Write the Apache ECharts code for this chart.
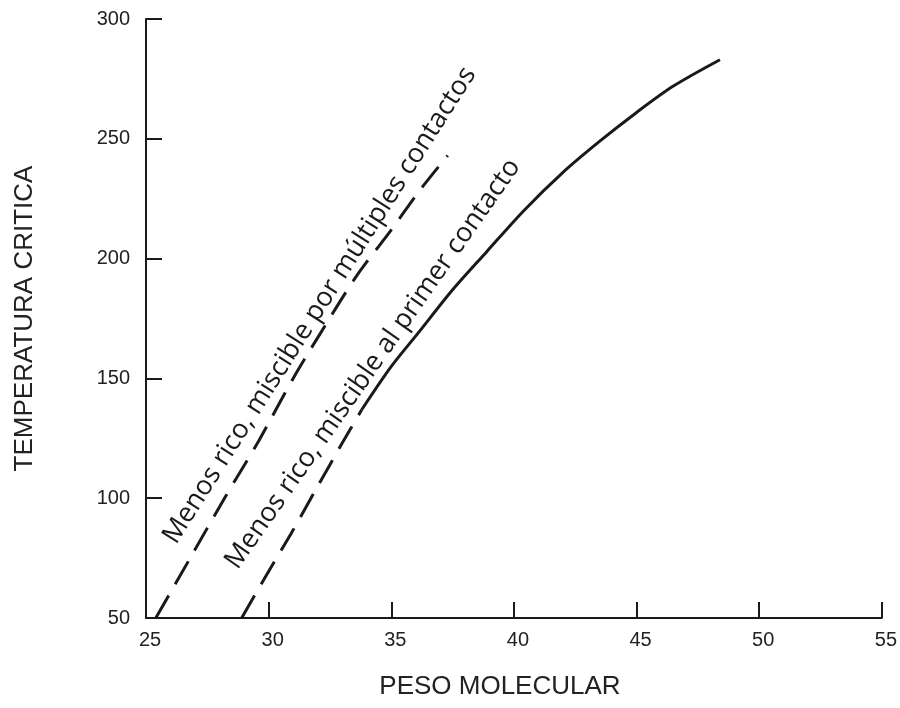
<!DOCTYPE html>
<html>
<head>
<meta charset="utf-8">
<script src="https://cdn.jsdelivr.net/npm/echarts@6/dist/echarts.min.js"></script>
<style>
  html, body { margin: 0; padding: 0; background: #fff; }
  #main { width: 900px; height: 708px; }
</style>
</head>
<body>
<div id="main"></div>
<script>
// curva "miscible por múltiples contactos" (discontinua)
var pesoMultiples = [25.4, 26.8, 28.2, 29.6, 31.0, 32.3, 33.6, 35.0, 36.2, 37.3];
var tempMultiples = [50, 75, 100, 124, 150, 172, 193, 212, 229, 243];

// curva "miscible al primer contacto": tramo discontinuo + tramo continuo
var pesoPrimerDash = [28.9, 29.8, 30.9, 32.0, 33.0, 33.8];
var tempPrimerDash = [50, 66, 85, 105, 123, 137];
var pesoPrimer = [33.8, 35.0, 36.1, 37.5, 38.9, 40.4, 42.0, 43.5, 45.0, 46.5, 48.4];
var tempPrimer = [137, 155, 169, 187, 203, 220, 236, 249, 261, 272, 283];

var xTicks = [25, 30, 35, 40, 45, 50, 55];
var yTicks = [50, 100, 150, 200, 250, 300];

var label1 = 'Menos rico, miscible por múltiples contactos';
var label2 = 'Menos rico, miscible al primer contacto';

function pairs(xs, ys) {
    return xs.map(function (x, i) { return [x, ys[i]]; });
}

var ink = '#1a1a1a';
var chart = echarts.init(document.getElementById('main'));

chart.setOption({
    animation: false,
    backgroundColor: '#fff',
    grid: {
        left: 146,
        right: 18,
        top: 19,
        bottom: 90
    },
    xAxis: {
        type: 'value',
        min: xTicks[0],
        max: xTicks[xTicks.length - 1],
        interval: 5,
        name: 'PESO MOLECULAR',
        nameLocation: 'middle',
        nameGap: 56,
        nameTextStyle: {
            fontFamily: 'Liberation Sans',
            fontSize: 26,
            color: '#222',
            padding: [0, 28, 0, 0]
        },
        splitLine: { show: false },
        axisLine: { lineStyle: { color: ink, width: 2 } },
        axisTick: { inside: true, length: 16, lineStyle: { color: ink, width: 2 } },
        axisLabel: {
            fontFamily: 'Liberation Sans',
            fontSize: 20,
            color: '#222',
            margin: 12,
            padding: [0, 0, 0, 8]
        }
    },
    yAxis: {
        type: 'value',
        min: yTicks[0],
        max: yTicks[yTicks.length - 1],
        interval: 50,
        name: 'TEMPERATURA CRITICA',
        nameLocation: 'middle',
        nameGap: 108,
        nameTextStyle: {
            fontFamily: 'Liberation Sans',
            fontSize: 26,
            color: '#222'
        },
        splitLine: { show: false },
        axisLine: { lineStyle: { color: ink, width: 2 } },
        axisTick: { inside: true, length: 16, lineStyle: { color: ink, width: 2 } },
        axisLabel: {
            fontFamily: 'Liberation Sans',
            fontSize: 20,
            color: '#222',
            margin: 16
        }
    },
    series: [
        {
            name: 'multiples',
            type: 'line',
            smooth: 0.3,
            showSymbol: false,
            lineStyle: { color: ink, width: 3, type: [26, 13] },
            data: pairs(pesoMultiples, tempMultiples)
        },
        {
            name: 'primer-dash',
            type: 'line',
            smooth: 0.3,
            showSymbol: false,
            lineStyle: { color: ink, width: 3, type: [26, 13] },
            data: pairs(pesoPrimerDash, tempPrimerDash)
        },
        {
            name: 'primer',
            type: 'line',
            smooth: 0.3,
            showSymbol: false,
            lineStyle: { color: ink, width: 3 },
            data: pairs(pesoPrimer, tempPrimer)
        }
    ]
});

// textos inclinados a lo largo de las curvas
var c1 = chart.convertToPixel({ gridIndex: 0 }, [32.08, 180.5]);
var c2 = chart.convertToPixel({ gridIndex: 0 }, [34.25, 156]);

chart.setOption({
    graphic: [
        {
            type: 'text',
            x: c1[0],
            y: c1[1],
            rotation: 57.5 * Math.PI / 180,
            style: {
                text: label1,
                fontFamily: 'Open Sans',
                fontSize: 27,
                fill: ink,
                align: 'center',
                verticalAlign: 'middle'
            }
        },
        {
            type: 'text',
            x: c2[0],
            y: c2[1],
            rotation: 55 * Math.PI / 180,
            style: {
                text: label2,
                fontFamily: 'Open Sans',
                fontSize: 27,
                fill: ink,
                align: 'center',
                verticalAlign: 'middle'
            }
        }
    ]
});
</script>
</body>
</html>
